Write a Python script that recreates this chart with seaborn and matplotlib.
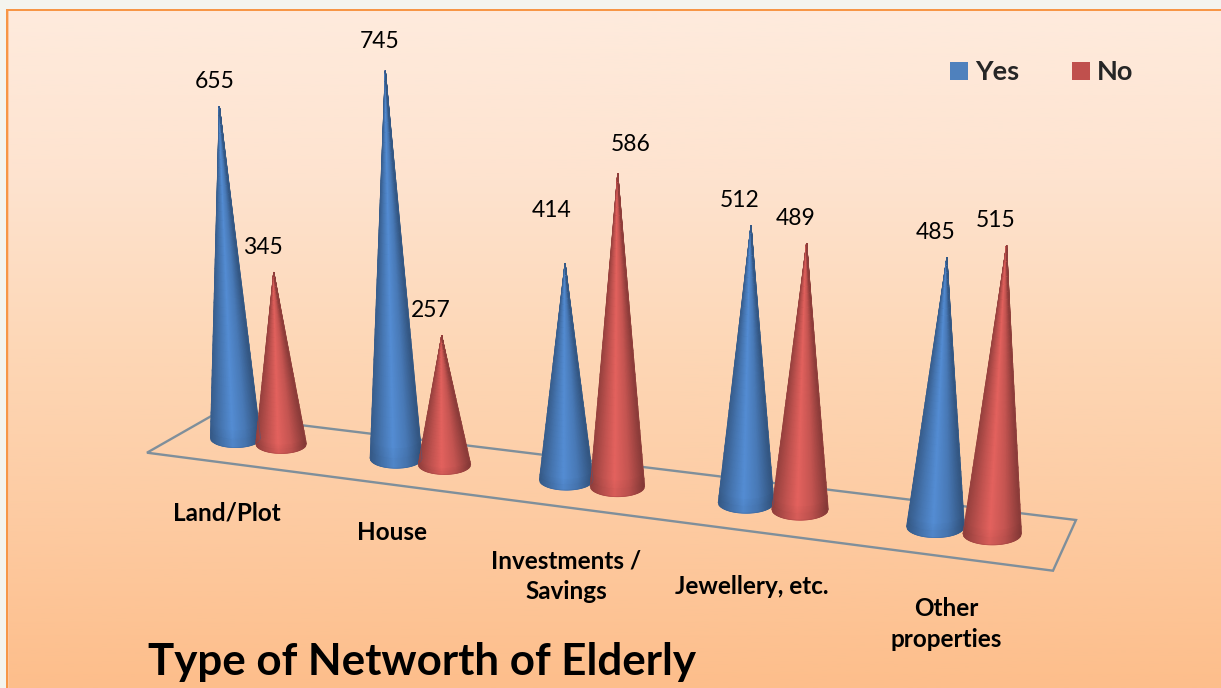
"""
Type of networth of elderly: cone chart on a tilted floor, built on a
seaborn scatter of the cone bases (which also gives the legend).
"""

import numpy as np
import pandas as pd
import matplotlib
matplotlib.use('Agg')
import matplotlib.pyplot as plt
from matplotlib.colors import LinearSegmentedColormap
from matplotlib.patches import Polygon, Rectangle
import seaborn as sns

# === Data ===
categories = ['Land/Plot', 'House', 'Investments /\nSavings', 'Jewellery, etc.', 'Other\nproperties']
yes_values = [655, 745, 414, 512, 485]
no_values = [345, 257, 586, 489, 515]
title_text = 'Type of Networth of Elderly'

# === Layout (pixels of the 1221x688 picture) ===
W, H = 1221, 688
category_label_pos = [(227, 513), (392, 532), (566, 576), (752, 586), (946, 624)]
floor_corners = [(147, 452.7), (214, 414.5), (1076, 520), (1053, 570.7)]
series_slot = {'Yes': 0.0, 'No': 0.29}
series_palette = {'Yes': '#4F81BD', 'No': '#C0504D'}
cone_center = {'Yes': (84, 141, 212), 'No': (228, 98, 94)}
label_shift = {
    ('Land/Plot', 'Yes'): (-5, -25),
    ('House', 'Yes'): (-6, -29),
    ('Investments /\nSavings', 'Yes'): (-13, -53),
    ('Investments /\nSavings', 'No'): (13, -29),
}


def base_x(slot):
    return 235.5 + 155.8 * slot + 4.8 * slot ** 2


def base_y(x):
    return 438 + (x - 235.5) * 0.1265


def height_px(value, y):
    # the scale grows toward the viewer
    return (0.5195 + (y - 438) * 0.00062) * (value - 17)


def cone_shade(u):
    # dark at both edges, brightest just left of the middle
    return np.interp(u, [-1, -0.55, -0.1, 0.45, 1], [0.66, 0.84, 1.0, 0.86, 0.60])


def draw_cone(ax, x, y, value, rgb):
    half_w = 25 + (y - 438) * 0.043
    half_h = half_w * 0.38
    top = y - height_px(value, y)
    tip_x = x + (x - 610) * 0.00013 * (y - top)

    u = np.linspace(-1, 1, 61)
    t = np.linspace(0, 1, 40)
    uu, tt = np.meshgrid(u, t)
    bottom_x = x + uu * half_w
    bottom_y = y + np.sqrt(1 - uu ** 2) * half_h
    xx = bottom_x + (tip_x - bottom_x) * tt
    yy = bottom_y + (top - bottom_y) * tt

    shade = cone_shade(uu)
    # slightly darker rim where the cone meets the floor
    shade = shade * np.where(tt < 0.03, 0.95, 1.0)
    colors = np.clip(shade[..., None] * np.array(rgb) / 255, 0, 1)
    ax.pcolormesh(xx, yy, colors, shading='gouraud', zorder=3, rasterized=True)

    # soft outline so the edge is not jagged
    edge = np.array(rgb) / 255 * 0.68
    ax.plot(np.r_[xx[0, 0], tip_x, xx[0, -1]], np.r_[yy[0, 0], top, yy[0, -1]],
            color=edge, lw=0.6, alpha=0.5, zorder=3.1)
    ax.plot(xx[0], yy[0], color=edge, lw=0.6, alpha=0.35, zorder=3.1)
    return tip_x, top


# === Table of marks ===
rows = []
for i, cat in enumerate(categories):
    for name, vals in (('Yes', yes_values), ('No', no_values)):
        x = base_x(i + series_slot[name])
        rows.append({'category': cat, 'answer': name, 'value': vals[i], 'x': x, 'y': base_y(x)})
df = pd.DataFrame(rows)

# === Figure ===
sns.set_theme(style='white')
plt.rcParams['font.family'] = ['Lato', 'DejaVu Sans']

fig = plt.figure(figsize=(W / 100, H / 100), dpi=100, facecolor='#F4F4EE')
ax = fig.add_axes([0, 0, 1, 1])

panel_cmap = LinearSegmentedColormap.from_list(
    'panel', ['#FEEBDD', '#FEE3CF', '#FDD7B6', '#FDCBA2', '#FDBE8B'])
ax.imshow(np.linspace(0, 1, 256)[:, None], cmap=panel_cmap, aspect='auto',
          extent=(8, W, H, 10), zorder=0)
ax.add_patch(Rectangle((6, 9), W - 6, 1.6, color='#F79646', lw=0, zorder=1))
ax.add_patch(Rectangle((6, 9), 2.4, H - 9, color='#F79646', lw=0, zorder=1))
ax.add_patch(Rectangle((8.4, 10.6), 1, H - 10, color='#FBC8A0', lw=0, zorder=1))

ax.add_patch(Polygon(floor_corners, closed=True, fill=False, edgecolor='#7F8F9B', lw=1.7, zorder=2))

g = sns.scatterplot(data=df, x='x', y='y', hue='answer', palette=series_palette, marker='s',
                    s=169, linewidth=0, ax=ax, zorder=2.5)

for _, row in df.iterrows():
    tip_x, tip_y = draw_cone(ax, row['x'], row['y'], row['value'], cone_center[row['answer']])
    dx, dy = label_shift.get((row['category'], row['answer']), (-11, -25))
    ax.text(tip_x + dx, tip_y + dy, str(row['value']), fontsize=16.5, color='black',
            ha='center', va='center', zorder=5)

for cat, (lx, ly) in zip(categories, category_label_pos):
    ax.text(lx, ly, cat, fontsize=17.5, fontweight='bold', color='black', ha='center',
            va='center', linespacing=1.42, zorder=5)

ax.text(148, 662, title_text, fontsize=31.6, fontweight='bold', color='black',
        ha='left', va='center', zorder=5)

handles, labels = g.get_legend_handles_labels()
ax.legend(handles, labels, ncol=2, frameon=False, loc='center left',
          bbox_to_anchor=(932, 72), bbox_transform=ax.transData,
          prop={'size': 19.5, 'weight': 'bold'}, handletextpad=-0.42, columnspacing=1.31,
          borderpad=0, borderaxespad=0)

ax.set_xlim(0, W)
ax.set_ylim(H, 0)
ax.set_axis_off()

fig.savefig('out.png', dpi=100, facecolor=fig.get_facecolor())
